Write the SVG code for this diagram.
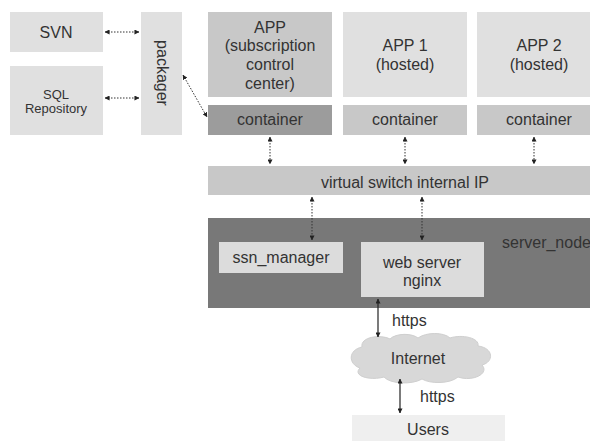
<svg xmlns="http://www.w3.org/2000/svg" width="590" height="441" viewBox="0 0 590 441">
<defs>
<marker id="ah" viewBox="0 0 6 6" refX="5.5" refY="3" markerWidth="5" markerHeight="5" orient="auto-start-reverse" markerUnits="userSpaceOnUse"><path d="M0,0 L6,3 L0,6 Z" fill="#222"/></marker>
<style>
text{font-family:"Liberation Sans",Arial,sans-serif;fill:#333;text-anchor:middle;font-size:16px}
.t13{font-size:13px}
.st{text-anchor:start}
.dot{stroke:#333;stroke-width:1;stroke-dasharray:1.5,1.5;fill:none}
.sol{stroke:#222;stroke-width:1.2;fill:none}
.light{fill:#e0e0e0}
.mid{fill:#c8c8c8}
</style>
</defs>
<rect width="590" height="441" fill="#fff"/>
<g id="svn"><rect x="10" y="12" width="93" height="40" class="light"/><text x="56" y="37.5">SVN</text></g>
<g id="sql"><rect x="10" y="66" width="93" height="69" class="light"/><text x="56" y="98.5" class="t13">SQL</text><text x="56" y="112.5" class="t13">Repository</text></g>
<g id="packager"><rect x="141" y="12" width="41" height="123" class="light"/><text x="0" y="0" transform="translate(156.5,73) rotate(90)">packager</text></g>
<g id="app"><rect x="208" y="12" width="124" height="85" class="mid"/><text x="270" y="32.5">APP</text><text x="270" y="51">(subscription</text><text x="270" y="70">control</text><text x="270" y="88.5">center)</text></g>
<g id="app1"><rect x="343" y="12" width="124" height="85" class="light"/><text x="405" y="51">APP 1</text><text x="405" y="70">(hosted)</text></g>
<g id="app2"><rect x="477" y="12" width="124" height="85" class="light"/><text x="539" y="51">APP 2</text><text x="539" y="70">(hosted)</text></g>
<g id="container0"><rect x="208" y="105" width="124" height="30" fill="#9c9c9c"/><text x="270" y="125">container</text></g>
<g id="container1"><rect x="343" y="105" width="124" height="30" class="mid"/><text x="405" y="125">container</text></g>
<g id="container2"><rect x="477" y="105" width="124" height="30" class="mid"/><text x="539" y="125">container</text></g>
<g id="switch"><rect x="208" y="166" width="390" height="29" class="mid"/><text x="405" y="187.5">virtual switch internal IP</text></g>
<g id="server_node"><rect x="208" y="218" width="390" height="90" fill="#787878"/><text x="502" y="247.5" class="st">server_node</text></g>
<g id="ssn_manager"><rect x="219" y="242" width="124" height="31" fill="#dcdcdc"/><text x="281" y="263">ssn_manager</text></g>
<g id="webserver"><rect x="361" y="242" width="123" height="55" fill="#dcdcdc"/><text x="422" y="267.5">web server</text><text x="422" y="285.5">nginx</text></g>
<g id="internet"><path d="M362,347 C360,337 380,334 390,339 C396,333 412,333 418,338 C426,332 444,332 450,338 C462,334 480,338 478,346 C494,348 494,362 482,365 C490,374 472,382 458,377 C450,384 430,384 422,379 C412,385 390,384 384,377 C370,381 352,376 360,368 C348,364 348,350 362,347 Z" fill="#d8d8d8" stroke="#cfcfcf"/><text x="418" y="364">Internet</text></g>
<g id="users"><rect x="352" y="415" width="153" height="26" fill="#efefef"/><text x="428" y="435">Users</text></g>
<g id="connectors">
<line x1="105" y1="32" x2="139" y2="32" class="dot" marker-start="url(#ah)" marker-end="url(#ah)"/>
<line x1="105" y1="98" x2="139" y2="98" class="dot" marker-start="url(#ah)" marker-end="url(#ah)"/>
<line x1="183" y1="75" x2="207" y2="117" class="dot" marker-start="url(#ah)" marker-end="url(#ah)"/>
<line x1="270" y1="137" x2="270" y2="164" class="dot" marker-start="url(#ah)" marker-end="url(#ah)"/>
<line x1="405" y1="137" x2="405" y2="164" class="dot" marker-start="url(#ah)" marker-end="url(#ah)"/>
<line x1="534" y1="137" x2="534" y2="164" class="dot" marker-start="url(#ah)" marker-end="url(#ah)"/>
<line x1="312" y1="197" x2="312" y2="240" class="dot" marker-start="url(#ah)" marker-end="url(#ah)"/>
<line x1="422" y1="197" x2="422" y2="240" class="dot" marker-start="url(#ah)" marker-end="url(#ah)"/>
<line x1="378" y1="299" x2="378" y2="337" class="sol" marker-start="url(#ah)" marker-end="url(#ah)"/>
<line x1="400" y1="379" x2="400" y2="413" class="sol" marker-start="url(#ah)" marker-end="url(#ah)"/>
<text x="392" y="326" class="st">https</text>
<text x="420" y="402" class="st">https</text>
</g>
</svg>
